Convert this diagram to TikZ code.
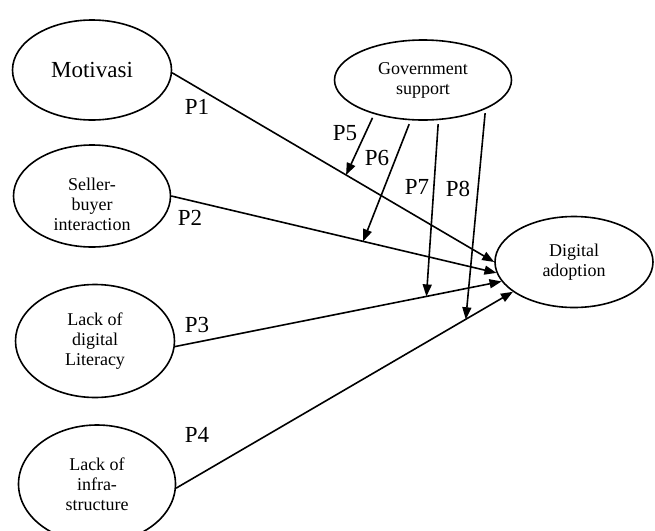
\documentclass[tikz,border=0pt]{standalone}
\usepackage{fontspec}
\setmainfont{Liberation Serif}
\usetikzlibrary{arrows.meta,shapes.geometric}

\begin{document}
\begin{tikzpicture}[x=0.5pt,y=-0.5pt,>={Triangle[length=6pt,width=4.5pt]},
  oval/.style={draw,ellipse,line width=0.8pt,inner sep=0pt,align=center,font=\fontsize{9}{10}\selectfont},
  link/.style={->,line width=0.8pt},
  modr/.style={->,line width=0.8pt,shorten <=2pt},
  plbl/.style={font=\fontsize{11.5}{13}\selectfont}]
\useasboundingbox (0,0) rectangle (655,531);
\node[oval,minimum width=79.5pt,minimum height=50pt,font=\fontsize{11.5}{13}\selectfont] (mot) at (92,70) {Motivasi};
\node[oval,minimum width=78.5pt,minimum height=51pt,
  label={[align=center,font=\fontsize{9}{10}\selectfont,yshift=-4pt]center:Seller-\\buyer\\interaction}] (sel) at (92,196) {};
\node[oval,minimum width=79.5pt,minimum height=56.5pt] (lit) at (95,341) {Lack of\\digital\\Literacy};
\node[oval,minimum width=78.5pt,minimum height=59pt] (inf) at (97,484) {Lack of\\infra-\\structure};
\node[oval,minimum width=88.5pt,minimum height=40pt] (gov) at (423,80) {Government\\support};
\node[oval,minimum width=79pt,minimum height=45.5pt] (dig) at (574,262) {Digital\\adoption};
\draw[link] (mot.-2) -- (dig.180) coordinate[pos=0.54] (m1);
\draw[link] (sel.east) -- (dig.188) coordinate[pos=0.59] (m2);
\draw[link] (lit.-4) -- (dig.195) coordinate[pos=0.77] (m3);
\draw[link] (inf.-3) -- (dig.206) coordinate[pos=0.86] (m4);
\draw[modr] (gov.215) -- (m1);
\draw[modr] (gov.253) -- (m2);
\draw[modr] (gov.291) -- (m3);
\draw[modr] (gov.335) -- (m4);
\node[plbl] (p1) at (197,107) {P1};
\node[plbl] (p2) at (190,218) {P2};
\node[plbl] (p3) at (197,325) {P3};
\node[plbl] (p4) at (197,435) {P4};
\node[plbl] (p5) at (345,133) {P5};
\node[plbl] (p6) at (377,158) {P6};
\node[plbl] (p7) at (417,187) {P7};
\node[plbl] (p8) at (458,189) {P8};
\end{tikzpicture}
\end{document}
